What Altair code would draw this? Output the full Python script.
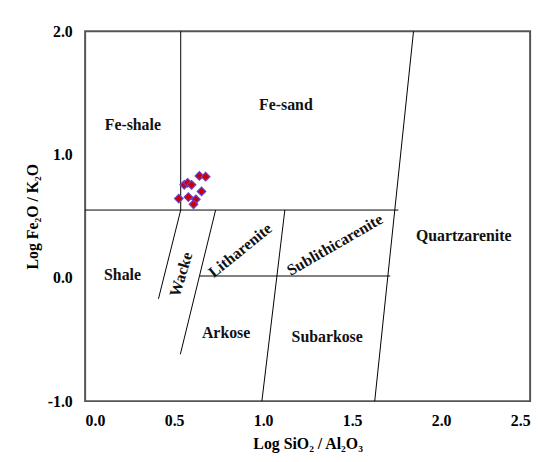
import altair as alt
import pandas as pd

# classification boundary segments (x1, y1, x2, y2)
seg_x1 = [0.537, 0.0, 1.845, 0.537, 0.733, 1.122, 0.645]
seg_y1 = [2.0, 0.55, 2.0, 0.55, 0.55, 0.55, 0.015]
seg_x2 = [0.537, 1.76, 1.627, 0.412, 0.535, 0.993, 1.714]
seg_y2 = [0.55, 0.55, -1.0, -0.17, -0.62, -1.0, 0.015]

# field labels
lab_text = ["Fe-shale", "Fe-sand", "Shale", "Wacke", "Litharenite",
            "Sublithicarenite", "Quartzarenite", "Arkose", "Subarkose"]
lab_x = [0.268, 1.128, 0.21, 0.54, 0.872, 1.403, 2.127, 0.792, 1.36]
lab_y = [1.238, 1.404, 0.02, 0.028, 0.223, 0.268, 0.34, -0.447, -0.482]
lab_angle = [0, 0, 0, 287, 321, 330, 0, 0, 0]

# samples
smp_x = [0.526, 0.557, 0.576, 0.598, 0.642, 0.677, 0.654, 0.580, 0.622, 0.609]
smp_y = [0.643, 0.755, 0.771, 0.755, 0.827, 0.821, 0.701, 0.655, 0.637, 0.597]

x_ticks = [0.0, 0.5, 1.0, 1.5, 2.0, 2.5]
y_ticks = [-1.0, 0.0, 1.0, 2.0]

FONT = "Liberation Serif"
LBL = "(datum.value < 0 ? '-' : '') + format(abs(datum.value), '.1f')"

seg = pd.DataFrame({"x": seg_x1, "y": seg_y1, "x2": seg_x2, "y2": seg_y2})
lab = pd.DataFrame({"x": lab_x, "y": lab_y, "t": lab_text, "a": lab_angle})
smp = pd.DataFrame({"x": smp_x, "y": smp_y})

xs = alt.Scale(domain=[0, 2.5], nice=False, zero=False)
ys = alt.Scale(domain=[-1, 2], nice=False, zero=False)

x_axis = alt.Axis(values=x_ticks, labelExpr=LBL, grid=False, ticks=False, domain=False,
                  labelFont=FONT, labelFontWeight="bold", labelFontSize=16, labelColor="black",
                  labelPadding=12, title="Log SiO\u2082 / Al\u2082O\u2083", titleFont=FONT,
                  titleFontWeight="bold", titleFontSize=16, titleColor="black", titlePadding=7)
y_axis = alt.Axis(values=y_ticks, labelExpr=LBL, grid=False, ticks=False, domain=False,
                  labelFont=FONT, labelFontWeight="bold", labelFontSize=16, labelColor="black",
                  labelPadding=13, title="Log Fe\u2082O / K\u2082O", titleFont=FONT,
                  titleFontWeight="bold", titleFontSize=16, titleColor="black", titlePadding=7)

lines = alt.Chart(seg).mark_rule(color="black", strokeWidth=1).encode(
    x=alt.X("x:Q", scale=xs, axis=x_axis),
    y=alt.Y("y:Q", scale=ys, axis=y_axis),
    x2="x2:Q", y2="y2:Q",
)

labels = alt.Chart(lab).mark_text(font=FONT, fontWeight="bold", fontSize=16, color="#111").encode(
    x=alt.X("x:Q", scale=xs), y=alt.Y("y:Q", scale=ys), text="t:N",
    angle=alt.Angle("a:Q", scale=None),
)

pts = alt.Chart(smp).mark_point(shape="diamond", filled=True, size=75, fill="#CC0000",
                                stroke="#6A3FD0", strokeWidth=1.2, opacity=1).encode(
    x=alt.X("x:Q", scale=xs), y=alt.Y("y:Q", scale=ys),
)

chart = alt.layer(lines, labels, pts).properties(
    width=450, height=374,
    autosize=alt.AutoSizeParams(type="none"),
    padding={"left": 78, "top": 21, "right": 10, "bottom": 60},
).configure_view(stroke="#555555", strokeWidth=2)

chart.save("out.html", embed_options={"renderer": "svg", "actions": False})
